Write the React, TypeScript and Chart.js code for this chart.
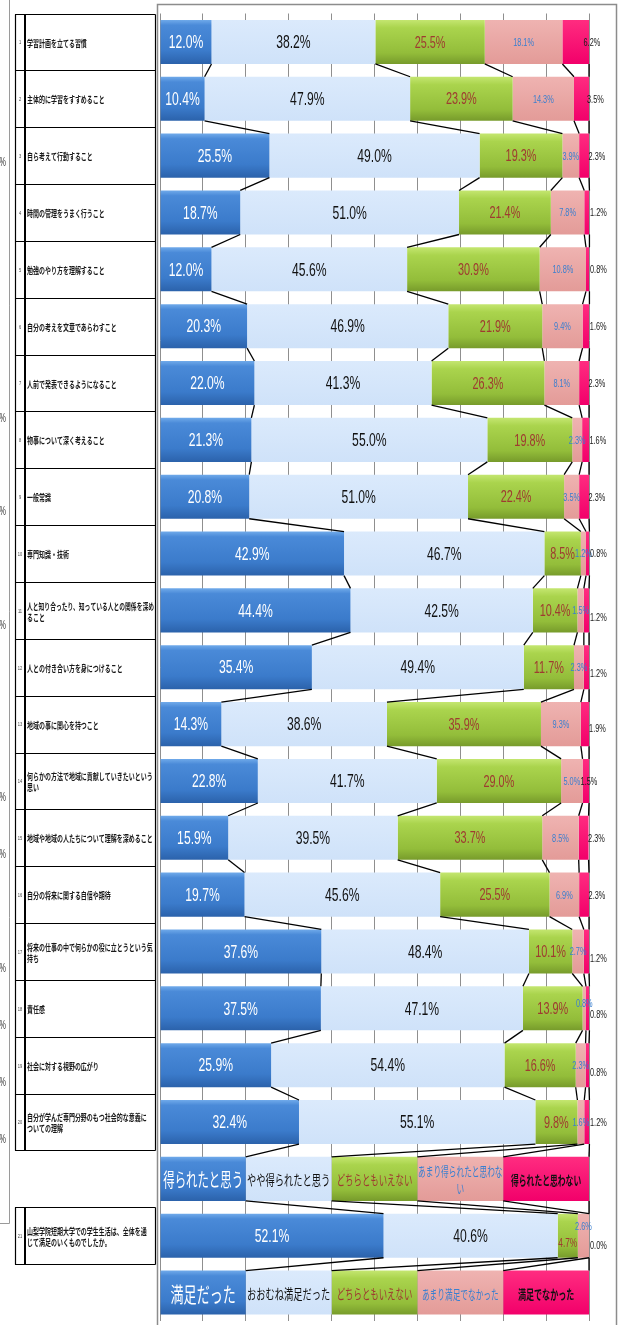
import React, { useEffect, useRef } from "react";
import { Chart, registerables } from "chart.js";
Chart.register(...registerables);

const W = 619;
const H = 1325;

// ---- data ----
const items = [
  "学習計画を立てる習慣",
  "主体的に学習をすすめること",
  "自ら考えて行動すること",
  "時間の管理をうまく行うこと",
  "勉強のやり方を理解すること",
  "自分の考えを文章であらわすこと",
  "人前で発表できるようになること",
  "物事について深く考えること",
  "一般常識",
  "専門知識・技術",
  "人と知り合ったり、知っている人との関係を深め\nること",
  "人との付き合い方を身につけること",
  "地域の事に関心を持つこと",
  "何らかの方法で地域に貢献していきたいという\n思い",
  "地域や地域の人たちについて理解を深めること",
  "自分の将来に関する自信や期待",
  "将来の仕事の中で何らかの役に立とうという気\n持ち",
  "責任感",
  "社会に対する視野の広がり",
  "自分が学んだ専門分野のもつ社会的な意義に\nついての理解",
];
const agree = [12.0, 10.4, 25.5, 18.7, 12.0, 20.3, 22.0, 21.3, 20.8, 42.9, 44.4, 35.4, 14.3, 22.8, 15.9, 19.7, 37.6, 37.5, 25.9, 32.4];
const somewhatAgree = [38.2, 47.9, 49.0, 51.0, 45.6, 46.9, 41.3, 55.0, 51.0, 46.7, 42.5, 49.4, 38.6, 41.7, 39.5, 45.6, 48.4, 47.1, 54.4, 55.1];
const neutral = [25.5, 23.9, 19.3, 21.4, 30.9, 21.9, 26.3, 19.8, 22.4, 8.5, 10.4, 11.7, 35.9, 29.0, 33.7, 25.5, 10.1, 13.9, 16.6, 9.8];
const somewhatDisagree = [18.1, 14.3, 3.9, 7.8, 10.8, 9.4, 8.1, 2.3, 3.5, 1.2, 1.5, 2.3, 9.3, 5.0, 8.5, 6.9, 2.7, 0.8, 2.3, 1.6];
const disagree = [6.2, 3.5, 2.3, 1.2, 0.8, 1.6, 2.3, 1.6, 2.3, 0.8, 1.2, 1.2, 1.9, 1.5, 2.3, 2.3, 1.2, 0.8, 0.8, 1.2];

const overallQuestion = "山梨学院短期大学での学生生活は、全体を通\nじて満足のいくものでしたか。";
const overall = [52.1, 40.6, 4.7, 2.6, 0.0];

const legend1 = ["得られたと思う", "やや得られたと思う", "どちらともいえない", "あまり得られたと思わない", "得られたと思わない"];
const legend2 = ["満足だった", "おおむね満足だった", "どちらともいえない", "あまり満足でなかった", "満足でなかった"];
const legendShare = [20, 20, 20, 20, 20];

const sideMarks = ["%", "%", "%", "%", "%", "%", "%", "%", "%", "%"];
const sideMarkY = [163, 419, 512, 626, 798, 855, 969, 1026, 1083, 1140];

// ---- derived rows ----
const seriesList = [agree, somewhatAgree, neutral, somewhatDisagree, disagree];
const rowLabels = [...items, legend1.join("/"), overallQuestion, legend2.join("/")];
const LEGEND1_ROW = items.length;
const OVERALL_ROW = items.length + 1;
const LEGEND2_ROW = items.length + 2;
const tableRows = [...items.map((t, i) => ({ row: i, num: i + 1, text: t })), { row: OVERALL_ROW, num: items.length + 1, text: overallQuestion }];

// ---- styles ----
const BAR_PCT = 0.775;
const fills: [number, string][][] = [
  [[0, "#70aaea"], [0.12, "#4a8ad8"], [0.7, "#3b7bcb"], [1, "#2b62ab"]],
  [[0, "#dbeafc"], [1, "#cfe2f9"]],
  [[0, "#c4e670"], [0.18, "#aad44d"], [0.75, "#93bd3a"], [1, "#779b2b"]],
  [[0, "#efb3b1"], [1, "#e39b98"]],
  [[0, "#ff2c80"], [1, "#f2006a"]],
];
const labelColors = ["#ffffff", "#111111", "#9e3b30", "#3a7fcf", "#1a1a1a"];
const labelSizes = [19, 19, 17, 10.5, 10.5];
const labelScales = [0.64, 0.64, 0.64, 0.7, 0.7];
const NUM_FONT = '"Liberation Sans", Arial, sans-serif';
const JP_FONT = '"Noto Sans CJK JP", "Noto Sans", sans-serif';

const legendStyles = {
  [LEGEND1_ROW]: [
    { size: 19, sx: 0.6, color: "#ffffff", weight: "normal" },
    { size: 14, sx: 0.66, color: "#111111", weight: "normal" },
    { size: 14, sx: 0.6, color: "#9e3b30", weight: "normal" },
    { size: 13, sx: 0.59, color: "#3a7fcf", weight: "normal" },
    { size: 13, sx: 0.6, color: "#111111", weight: "bold" },
  ],
  [LEGEND2_ROW]: [
    { size: 21, sx: 0.62, color: "#ffffff", weight: "normal" },
    { size: 14, sx: 0.66, color: "#111111", weight: "normal" },
    { size: 14, sx: 0.6, color: "#9e3b30", weight: "normal" },
    { size: 13, sx: 0.59, color: "#3a7fcf", weight: "normal" },
    { size: 13, sx: 0.62, color: "#111111", weight: "bold" },
  ],
} as Record<number, { size: number; sx: number; color: string; weight: string }[]>;

// small label nudges (row -> series -> [dx, dy, fontSize?])
const nudges: Record<number, Record<number, number[]>> = {
  10: { 4: [0, 7] },
  11: { 4: [0, 6] },
  12: { 4: [0, 4] },
  13: { 4: [-9, 0] },
  16: { 4: [0, 7] },
  17: { 3: [0, -5], 4: [0, 6] },
  18: { 4: [0, 7] },
  21: { 2: [0, 7, 13], 3: [0, -10], 4: [0, 9] },
};

function gradient(stops: [number, string][]) {
  return (c: any) => {
    const chart = c.chart;
    const ys = chart.scales && chart.scales.y;
    if (!ys || c.type !== "data") return stops[1][1];
    const yc = ys.getPixelForValue(c.dataIndex);
    const pitch = Math.abs(ys.getPixelForValue(1) - ys.getPixelForValue(0));
    const h = (pitch * BAR_PCT) / 2;
    if (!isFinite(yc) || !isFinite(h) || h <= 0) return stops[1][1];
    const g = chart.ctx.createLinearGradient(0, yc - h, 0, yc + h);
    stops.forEach(([o, col]) => g.addColorStop(o, col));
    return g;
  };
}

function drawText(ctx: CanvasRenderingContext2D, text: string, x: number, y: number, font: string, color: string, sx: number, align: CanvasTextAlign = "center") {
  ctx.save();
  ctx.font = font;
  ctx.fillStyle = color;
  ctx.textBaseline = "middle";
  ctx.textAlign = align;
  ctx.translate(x, y);
  ctx.scale(sx, 1);
  ctx.fillText(text, 0, 0);
  ctx.restore();
}

function wrapChars(ctx: CanvasRenderingContext2D, text: string, font: string, sx: number, maxW: number) {
  ctx.save();
  ctx.font = font;
  const lines: string[] = [];
  let cur = "";
  for (const ch of Array.from(text)) {
    const t = cur + ch;
    if (cur && ctx.measureText(t).width * sx > maxW) {
      lines.push(cur);
      cur = ch;
    } else cur = t;
  }
  if (cur) lines.push(cur);
  ctx.restore();
  return lines;
}

const overlay = {
  id: "overlay",
  beforeDraw(chart: any) {
    const ctx: CanvasRenderingContext2D = chart.ctx;
    const ys = chart.scales.y;
    const pitch = ys.getPixelForValue(1) - ys.getPixelForValue(0);
    ctx.save();
    // left partial frame
    ctx.strokeStyle = "#9a9a9a";
    ctx.lineWidth = 1;
    ctx.beginPath();
    ctx.moveTo(9.5, 0);
    ctx.lineTo(9.5, 1223.5);
    ctx.lineTo(0, 1223.5);
    ctx.stroke();
    sideMarks.forEach((m, i) => drawText(ctx, m, -0.5, sideMarkY[i], `12px ${NUM_FONT}`, "#333", 0.6, "left"));

    // table
    ctx.strokeStyle = "#000";
    const groups: number[][] = [];
    let g: number[] = [];
    tableRows.forEach((r, i) => {
      if (i > 0 && r.row !== tableRows[i - 1].row + 1) {
        groups.push(g);
        g = [];
      }
      g.push(r.row);
    });
    groups.push(g);
    groups.forEach((grp) => {
      const top = Math.round(ys.getPixelForValue(grp[0]) - pitch / 2) + 0.5;
      const bot = Math.round(ys.getPixelForValue(grp[grp.length - 1]) + pitch / 2) + 0.5;
      ctx.lineWidth = 1.2;
      for (let k = 0; k <= grp.length; k++) {
        const yy = Math.round(ys.getPixelForValue(grp[0]) - pitch / 2 + k * pitch) + 0.5;
        ctx.beginPath();
        ctx.moveTo(15, yy);
        ctx.lineTo(155.5, yy);
        ctx.stroke();
      }
      ctx.beginPath();
      ctx.moveTo(15.5, top);
      ctx.lineTo(15.5, bot);
      ctx.moveTo(155.5, top);
      ctx.lineTo(155.5, bot);
      ctx.stroke();
      ctx.lineWidth = 2;
      ctx.beginPath();
      ctx.moveTo(25, top);
      ctx.lineTo(25, bot);
      ctx.stroke();
    });
    tableRows.forEach((r) => {
      const yc = ys.getPixelForValue(r.row);
      drawText(ctx, String(r.num), 20, yc + 1, `5px ${NUM_FONT}`, "#444", 0.8);
      const lines = r.text.split("\n");
      const lh = 11;
      lines.forEach((ln, li) => {
        const font = `bold 9.5px ${JP_FONT}`;
        ctx.font = font;
        const w = ctx.measureText(ln).width;
        const sx = Math.min(0.63, 127 / w);
        const y = yc + 1 + (li - (lines.length - 1) / 2) * lh;
        drawText(ctx, ln, 27, y, font, "#1a1a1a", sx, "left");
      });
    });
    ctx.restore();
  },
  afterDatasetsDraw(chart: any) {
    const ctx: CanvasRenderingContext2D = chart.ctx;
    const metas = seriesList.map((_, k) => chart.getDatasetMeta(k));
    const n = rowLabels.length;
    ctx.save();
    // series lines
    ctx.strokeStyle = "#000";
    ctx.lineWidth = 1.3;
    for (let r = 0; r < n - 1; r++) {
      for (let k = 0; k < metas.length; k++) {
        const a = metas[k].data[r];
        const b = metas[k].data[r + 1];
        ctx.beginPath();
        ctx.moveTo(a.x, a.y + a.height / 2);
        ctx.lineTo(b.x, b.y - b.height / 2);
        ctx.stroke();
      }
    }
    // data labels
    for (let r = 0; r < n; r++) {
      if (legendStyles[r]) {
        const st = legendStyles[r];
        const texts = r === LEGEND1_ROW ? legend1 : legend2;
        for (let k = 0; k < metas.length; k++) {
          const el = metas[k].data[r];
          const cx = (el.x + el.base) / 2;
          const s = st[k];
          const font = `${s.weight} ${s.size}px ${JP_FONT}`;
          const lines = wrapChars(ctx, texts[k], font, s.sx, Math.abs(el.x - el.base) - 1);
          const lh = 17;
          lines.forEach((ln, li) => {
            const y = el.y + 1 + (li - (lines.length - 1) / 2) * lh;
            drawText(ctx, ln, cx, y, font, s.color, s.sx);
          });
        }
        continue;
      }
      for (let k = 0; k < metas.length; k++) {
        const el = metas[k].data[r];
        const v = chart.data.datasets[k].data[r];
        const txt = v.toFixed(1) + "%";
        const nd = (nudges[r] && nudges[r][k]) || [0, 0];
        const size = nd[2] || labelSizes[k];
        const y = el.y + 1 + nd[1];
        const font = `${size}px ${NUM_FONT}`;
        if (k < 4) {
          drawText(ctx, txt, (el.x + el.base) / 2 + nd[0], y, font, labelColors[k], labelScales[k]);
        } else {
          const w = Math.abs(el.x - el.base);
          const lx = Math.min(590, el.x + 1 - Math.max(0, w - 5) * 0.3) + nd[0];
          drawText(ctx, txt, lx, y, font, labelColors[k], labelScales[k], "left");
        }
      }
    }
    ctx.restore();
  },
  afterDraw(chart: any) {
    const ctx: CanvasRenderingContext2D = chart.ctx;
    ctx.save();
    ctx.strokeStyle = "#8c8c8c";
    ctx.lineWidth = 1.5;
    ctx.strokeRect(157.5, 4.5, 459, 1340);
    ctx.restore();
  },
};

export default function App() {
  const ref = useRef<HTMLCanvasElement>(null);
  useEffect(() => {
    const canvas = ref.current;
    if (!canvas) return;
    const datasets = seriesList.map((s, k) => ({
      label: legend1[k],
      data: [...s, legendShare[k], overall[k], legendShare[k]],
      backgroundColor: gradient(fills[k]),
      borderWidth: 0,
      barPercentage: BAR_PCT,
      categoryPercentage: 1,
    }));
    const chart = new Chart(canvas, {
      type: "bar",
      data: { labels: rowLabels, datasets },
      options: {
        indexAxis: "y",
        responsive: false,
        maintainAspectRatio: false,
        animation: false,
        devicePixelRatio: 1,
        layout: { padding: { left: 160, right: 30, top: 13.5, bottom: 4 } },
        plugins: { legend: { display: false }, tooltip: { enabled: false } },
        scales: {
          x: {
            stacked: true,
            min: 0,
            max: 100,
            ticks: { display: false, stepSize: 10 },
            grid: { color: "#8f8f8f", lineWidth: 1, drawTicks: false },
            border: { display: false },
          },
          y: { stacked: true, display: false },
        },
      } as any,
      plugins: [overlay],
    });
    return () => chart.destroy();
  }, []);
  return (
    <div style={{ position: "absolute", left: 0, top: 0, width: W, height: H, background: "#fff" }}>
      <canvas ref={ref} width={W} height={H} style={{ display: "block", width: W, height: H }} />
    </div>
  );
}
